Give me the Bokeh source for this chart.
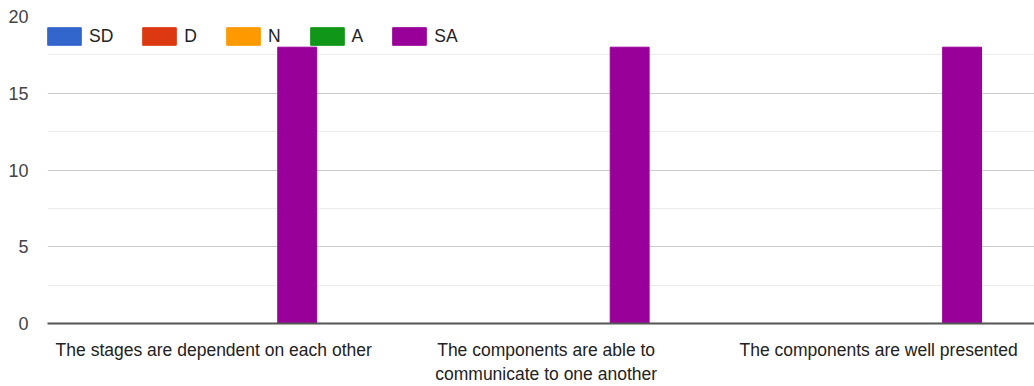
from bokeh.plotting import figure
from bokeh.models import ColumnDataSource, FixedTicker, Range1d
from bokeh.transform import dodge
from bokeh.embed import file_html
from bokeh.resources import INLINE

categories = ["The stages are dependent on each other",
              "The components are able to\ncommunicate to one another",
              "The components are well presented"]
series = ["SD", "D", "N", "A", "SA"]
colors = ["#3366cc", "#dc3912", "#ff9900", "#109618", "#990099"]
sd = [0, 0, 0]
d = [0, 0, 0]
n = [0, 0, 0]
a = [0, 0, 0]
sa = [18, 18, 18]
y_ticks = [0, 5, 10, 15, 20]

values = {"SD": sd, "D": d, "N": n, "A": a, "SA": sa}
src = ColumnDataSource(dict(x=list(range(len(categories))), **values))

p = figure(width=1034, height=386, output_backend="svg", toolbar_location=None,
           x_range=Range1d(-0.5, 2.469), y_range=Range1d(0, 20),
           min_border_left=47, min_border_right=0, min_border_top=16, min_border_bottom=62)
p.outline_line_color = None

step = 0.1256
for i, (s, c) in enumerate(zip(series, colors)):
    p.vbar(x=dodge("x", (i - 2) * step, range=p.x_range), top=s, width=0.117,
           source=src, fill_color=c, line_color=c, legend_label=s)

font = "Liberation Sans"
p.xgrid.visible = False
p.ygrid.grid_line_color = "#cccccc"
p.ygrid.grid_line_width = 1
p.ygrid.minor_grid_line_color = "#ebebeb"
p.yaxis.ticker = FixedTicker(ticks=y_ticks, minor_ticks=[2.5, 7.5, 12.5, 17.5])
p.yaxis.axis_line_color = None
p.yaxis.major_tick_line_color = None
p.yaxis.minor_tick_line_color = None
p.yaxis.major_label_standoff = 13
p.yaxis.major_label_text_font = font
p.yaxis.major_label_text_font_size = "18px"
p.yaxis.major_label_text_color = "#444444"

p.xaxis.ticker = FixedTicker(ticks=[0, 1, 2])
p.xaxis.major_label_overrides = {i: c for i, c in enumerate(categories)}
p.xaxis.axis_line_color = "#555555"
p.xaxis.axis_line_width = 2
p.xaxis.major_tick_line_color = None
p.xaxis.minor_tick_line_color = None
p.xaxis.major_label_standoff = 10
p.xaxis.major_label_text_font = font
p.xaxis.major_label_text_font_size = "17.5px"
p.xaxis.major_label_text_color = "#222222"

lg = p.legend[0]
lg.orientation = "horizontal"
lg.location = (-4, 276)
lg.margin = 0
lg.padding = 0
lg.spacing = 25
lg.glyph_width = 42
lg.glyph_height = 22
lg.label_standoff = 4
lg.label_width = 0
lg.label_text_font = font
lg.label_text_font_size = "17.5px"
lg.label_text_color = "#222222"
lg.background_fill_alpha = 0
lg.border_line_alpha = 0

open("out.html", "w").write(file_html(p, INLINE))
